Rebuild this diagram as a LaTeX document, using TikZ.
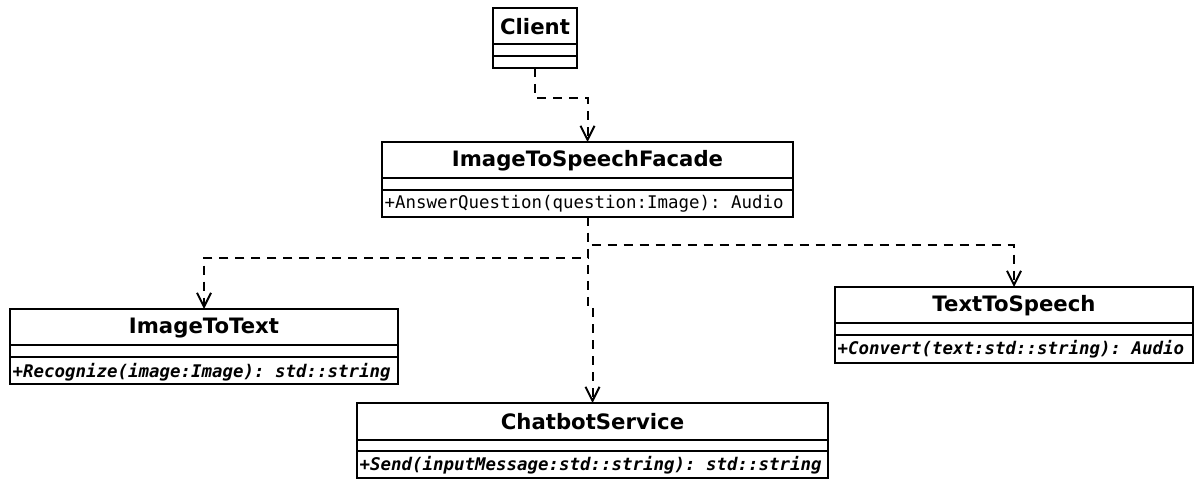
\documentclass[tikz,border=0pt]{standalone}
\usepackage{fontspec}
\setmainfont{DejaVu Sans}
\setsansfont{DejaVu Sans}
\setmonofont{DejaVu Sans Mono}
\usetikzlibrary{fit,calc,arrows.meta}

\tikzset{
  frame/.style={draw=black, line width=2bp},
  classframe/.style={frame, inner sep=0pt, outer sep=0pt},
  classtitle/.style={font=\sffamily\bfseries\fontsize{21.3}{25}\selectfont, inner sep=0pt},
  operation/.style={font=\ttfamily\fontsize{17.5}{20}\selectfont, inner sep=0pt, anchor=west},
  abstractop/.style={operation, font=\ttfamily\bfseries\itshape\fontsize{17.5}{20}\selectfont},
  dep/.style={draw=black, line width=2bp, dash pattern=on 9bp off 7bp,
    -{Straight Barb[length=14bp, width=14bp, line width=2bp]}},
}

% UML class: name, left, top, right, bottom, class name
\newcommand\umlclass[6]{%
  \coordinate (#1-nw) at (#2,#3);
  \coordinate (#1-se) at (#4,#5);
  \node[classframe, fit=(#1-nw)(#1-se)] (#1) {};
  \node[classtitle] (#1-name) at ({(#2+#4)/2}, #3+19) {#6};
  \draw[frame] (#2,#3+36.5) -- (#4,#3+36.5);
  \draw[frame] (#2,#3+48) -- (#4,#3+48);
}

\begin{document}
\begin{tikzpicture}[x=1bp, y=-1bp]
  \useasboundingbox (0,0) rectangle (1199,479);

  \umlclass{client}{493}{8}{577}{68}{Client}
  \umlclass{fac}{382}{142}{793}{217}{ImageToSpeechFacade}
  \node[operation] (fac-op) at (384.5,204) {+AnswerQuestion(question:Image): Audio};

  \umlclass{itt}{10}{309}{398}{384}{ImageToText}
  \node[abstractop] (itt-op) at (12.5,372) {+Recognize(image:Image): std::string};

  \umlclass{tts}{835}{287}{1193}{363}{TextToSpeech}
  \node[abstractop] (tts-op) at (837.5,349) {+Convert(text:std::string): Audio};

  \umlclass{chat}{357}{403}{828}{478}{ChatbotService}
  \node[abstractop] (chat-op) at (359.5,465.5) {+Send(inputMessage:std::string): std::string};

  % dependencies
  \draw[dep] (client.south) -- (client.south |- 0,98) -| (fac.north);
  \draw[dep] (fac.south) -- (fac.south |- 0,245) -| (tts.north);
  \draw[dep] (fac.south) -- (fac.south |- 0,258) -| (itt.north);
  \draw[dep] (fac.south) -- (fac.south |- 0,305) -| (chat.north);
\end{tikzpicture}
\end{document}
